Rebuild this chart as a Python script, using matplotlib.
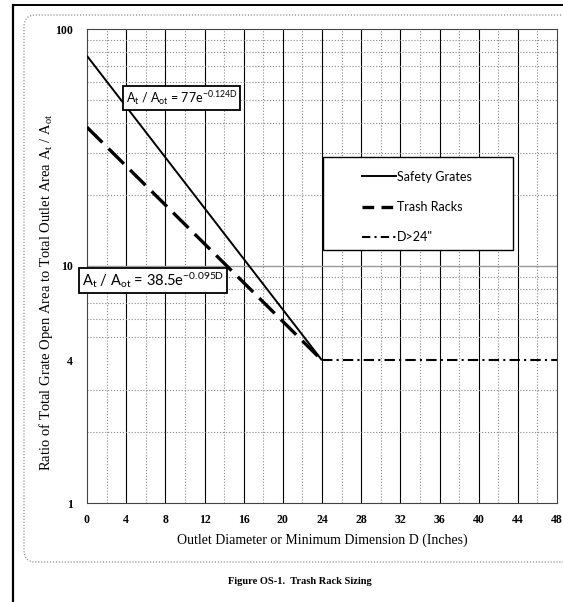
import numpy as np
import matplotlib
matplotlib.use('Agg')
import matplotlib.pyplot as plt
from matplotlib.lines import Line2D
from matplotlib.patches import FancyBboxPatch, Rectangle
from matplotlib.ticker import FixedLocator, NullFormatter

# data
D_SAFETY = [0, 24]
R_SAFETY = [77, 4]
D_TRASH = [0, 24]
R_TRASH = [38.5, 4]
D_LARGE = [24, 48]
R_LARGE = [4, 4]

X_TICKS = list(range(0, 49, 4))
Y_TICKS = [1, 4, 10, 100]
Y_TICK_LABELS = ['1', '4', '10', '100']

SERIF = 'Liberation Serif'
SANS = 'Lato'

plt.rcParams['mathtext.default'] = 'regular'

W, H = 563, 602
fig = plt.figure(figsize=(W / 100, H / 100), dpi=100)
ax = fig.add_axes([87 / W, 1 - 503 / H, 470 / W, 474 / H])

# outer page decorations
fig.add_artist(Line2D([13 / W, 13 / W], [0, 1 - 5 / H], color='black',
                      lw=1.6, transform=fig.transFigure))
fig.add_artist(Line2D([13 / W, 1], [1 - 5 / H, 1 - 5 / H], color='black',
                      lw=1.4, transform=fig.transFigure))
fig.add_artist(FancyBboxPatch((24 / W, 1 - 562 / H), (600 - 24) / W,
                              (562 - 15) / H,
                              boxstyle='round,pad=0,rounding_size=0.02',
                              transform=fig.transFigure, fc='none',
                              ec='#777777', lw=0.8, ls=':'))

# curves
ax.plot(D_SAFETY, R_SAFETY, color='black', lw=1.4, solid_capstyle='butt',
        zorder=5)
ax.plot(D_TRASH, R_TRASH, color='black', lw=2.4, dashes=(6.5, 2.6),
        zorder=5)
ax.plot(D_LARGE, R_LARGE, color='black', lw=1.5, dashes=(5, 2, 1, 2),
        zorder=5)

ax.set_yscale('log')
ax.set_xlim(0, 48)
ax.set_ylim(1, 100)

ax.set_xticks(X_TICKS)
ax.set_xticks(np.arange(2, 48, 4), minor=True)
ax.set_yticks(Y_TICKS)
ax.set_yticklabels(Y_TICK_LABELS)
minor_y = [v * d for d in (1, 10) for v in range(2, 10)]
ax.yaxis.set_minor_locator(FixedLocator(minor_y))
ax.yaxis.set_minor_formatter(NullFormatter())

ax.tick_params(which='both', length=0)
ax.tick_params(axis='x', pad=8)
ax.tick_params(axis='y', pad=10)
for lab in ax.get_xticklabels() + ax.get_yticklabels():
    lab.set_fontfamily(SERIF)
    lab.set_fontweight('bold')
    lab.set_fontsize(8.5)

# grid
ax.grid(False)
for x in X_TICKS[1:-1]:
    ax.axvline(x, color='black', lw=0.8, zorder=1)
ax.grid(axis='x', which='minor', color='#888888', ls=':', lw=0.8)
ax.grid(axis='y', which='minor', color='#888888', ls=':', lw=0.8)
ax.axhline(10, color='#999999', lw=1.0, zorder=1)

for sp in ax.spines.values():
    sp.set_color('#444444')
    sp.set_linewidth(0.8)

ax.set_xlabel('Outlet Diameter or Minimum Dimension D (Inches)',
              fontfamily=SERIF, fontsize=10)
ax.xaxis.set_label_coords(0.5, -0.064)
ax.set_ylabel('Ratio of Total Grate Open Area to Total Outlet Area A$_t$ / A$_{ot}$',
              fontfamily=SERIF, fontsize=10.5)
ax.yaxis.set_label_coords(-0.068, 0.445)

# equation boxes
ax.text(9.65, 51.2, 'A$_t$ / A$_{ot}$ = 77e$^{-0.124D}$', fontfamily=SANS,
        fontsize=9, ha='center', va='center', zorder=8,
        bbox=dict(boxstyle='square,pad=0.25', fc='white', ec='black', lw=1.3))
ax.text(6.75, 8.7, 'A$_t$ / A$_{ot}$ = 38.5e$^{-0.095D}$', fontfamily=SANS,
        fontsize=10.5, ha='center', va='center', zorder=8, clip_on=False,
        bbox=dict(boxstyle='square,pad=0.2', fc='white', ec='black', lw=1.3))

# legend (frame drawn separately so the entries can sit indented)
ax.add_patch(Rectangle((0.502, 0.534), 0.404, 0.196, transform=ax.transAxes,
                       fc='white', ec='black', lw=1.0, zorder=9))
handles = [
    Line2D([], [], color='black', lw=1.4),
    Line2D([], [], color='black', lw=2.4, dashes=(3.5, 2.2)),
    Line2D([], [], color='black', lw=1.5, dashes=(4, 2, 1, 2)),
]
leg = ax.legend(handles, ['Safety Grates', 'Trash Racks', 'D>24"'],
                loc='center left', bbox_to_anchor=(0.585, 0.6245),
                frameon=False, borderpad=0, borderaxespad=0,
                handlelength=2.7, handletextpad=0.1, labelspacing=1.45,
                prop={'family': SANS, 'size': 9})
leg.set_zorder(10)

fig.text(300 / W, 1 - 581 / H, 'Figure OS-1.  Trash Rack Sizing',
         fontfamily=SERIF, fontweight='bold', fontsize=7.5,
         ha='center', va='center')

fig.savefig('out.png', dpi=100)
